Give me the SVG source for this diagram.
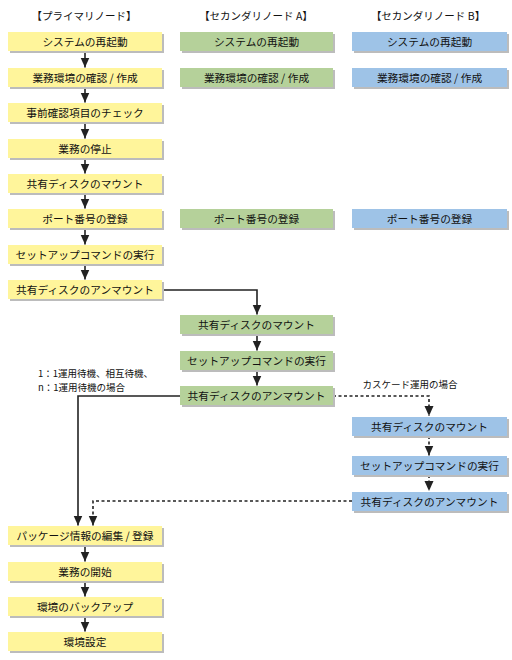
<svg xmlns="http://www.w3.org/2000/svg" width="512" height="660" viewBox="0 0 512 660">
<defs>
<style>
text{font-family:"Noto Sans CJK JP","Noto Sans",sans-serif;fill:#111;}
.t{font-size:10.7px;text-anchor:middle;dominant-baseline:central;}
.h{font-size:10.5px;text-anchor:middle;dominant-baseline:central;}
.s{font-size:9.5px;}
.sh{fill:#bcbcbc;}
.p{fill:#fff59b;}
.a{fill:#b5d19a;}
.b{fill:#9ec3e7;}
.ln{fill:none;stroke:#222;stroke-width:1.6;}
.dl{fill:none;stroke:#222;stroke-width:1.6;stroke-dasharray:3,2.5;}
</style>
<marker id="ah" markerUnits="userSpaceOnUse" markerWidth="10" markerHeight="10" viewBox="0 0 10 10" refX="10" refY="5" orient="auto">
<path d="M0,0.5 L10,5 L0,9.5 Z" fill="#222"/>
</marker>
</defs>
<rect width="512" height="660" fill="#fff"/>
<g id="headers">
<text class="h" x="84" y="15">【プライマリノード】</text>
<text class="h" x="256" y="15">【セカンダリノード A】</text>
<text class="h" x="428" y="15">【セカンダリノード B】</text>
</g>
<g id="connectors">
<path class="ln" d="M85,51 V67.5" marker-end="url(#ah)"/>
<path class="ln" d="M85,87 V102.5" marker-end="url(#ah)"/>
<path class="ln" d="M85,122 V138.5" marker-end="url(#ah)"/>
<path class="ln" d="M85,158 V173.5" marker-end="url(#ah)"/>
<path class="ln" d="M85,193 V208.5" marker-end="url(#ah)"/>
<path class="ln" d="M85,228 V244.5" marker-end="url(#ah)"/>
<path class="ln" d="M85,264 V279.5" marker-end="url(#ah)"/>
<path class="ln" d="M162,290 H257 V314.5" marker-end="url(#ah)"/>
<path class="ln" d="M257,334 V350.5" marker-end="url(#ah)"/>
<path class="ln" d="M257,370 V385.5" marker-end="url(#ah)"/>
<path class="ln" d="M180,396 H78 V525.5" marker-end="url(#ah)"/>
<path class="dl" d="M333,396 H429 V416" marker-end="url(#ah)"/>
<path class="dl" d="M429,436 V455.5" marker-end="url(#ah)"/>
<path class="dl" d="M429,475 V491" marker-end="url(#ah)"/>
<path class="dl" d="M352,501 H93 V525.5" marker-end="url(#ah)"/>
<path class="ln" d="M85,545 V561.5" marker-end="url(#ah)"/>
<path class="ln" d="M85,581 V596.5" marker-end="url(#ah)"/>
<path class="ln" d="M85,616 V631.5" marker-end="url(#ah)"/>
</g>
<g id="labels">
<text class="s" x="38" y="377">1：1運用待機、相互待機、</text>
<text class="s" x="38" y="391">n：1運用待機の場合</text>
<text class="s" x="410" y="388" text-anchor="middle">カスケード運用の場合</text>
</g>
<g id="p1"><rect class="sh" x="10" y="34" width="154" height="19"/><rect class="p" x="8" y="32" width="154" height="19"/><text class="t" x="85" y="41.5">システムの再起動</text></g>
<g id="p2"><rect class="sh" x="10" y="70" width="154" height="19"/><rect class="p" x="8" y="68" width="154" height="19"/><text class="t" x="85" y="77.5">業務環境の確認 / 作成</text></g>
<g id="p3"><rect class="sh" x="10" y="105" width="154" height="19"/><rect class="p" x="8" y="103" width="154" height="19"/><text class="t" x="85" y="112.5">事前確認項目のチェック</text></g>
<g id="p4"><rect class="sh" x="10" y="141" width="154" height="19"/><rect class="p" x="8" y="139" width="154" height="19"/><text class="t" x="85" y="148.5">業務の停止</text></g>
<g id="p5"><rect class="sh" x="10" y="176" width="154" height="19"/><rect class="p" x="8" y="174" width="154" height="19"/><text class="t" x="85" y="183.5">共有ディスクのマウント</text></g>
<g id="p6"><rect class="sh" x="10" y="211" width="154" height="19"/><rect class="p" x="8" y="209" width="154" height="19"/><text class="t" x="85" y="218.5">ポート番号の登録</text></g>
<g id="p7"><rect class="sh" x="10" y="247" width="154" height="19"/><rect class="p" x="8" y="245" width="154" height="19"/><text class="t" x="85" y="254.5">セットアップコマンドの実行</text></g>
<g id="p8"><rect class="sh" x="10" y="282" width="154" height="19"/><rect class="p" x="8" y="280" width="154" height="19"/><text class="t" x="85" y="289.5">共有ディスクのアンマウント</text></g>
<g id="p9"><rect class="sh" x="10" y="528" width="154" height="19"/><rect class="p" x="8" y="526" width="154" height="19"/><text class="t" x="85" y="535.5">パッケージ情報の編集 / 登録</text></g>
<g id="p10"><rect class="sh" x="10" y="564" width="154" height="19"/><rect class="p" x="8" y="562" width="154" height="19"/><text class="t" x="85" y="571.5">業務の開始</text></g>
<g id="p11"><rect class="sh" x="10" y="599" width="154" height="19"/><rect class="p" x="8" y="597" width="154" height="19"/><text class="t" x="85" y="606.5">環境のバックアップ</text></g>
<g id="p12"><rect class="sh" x="10" y="634" width="154" height="19"/><rect class="p" x="8" y="632" width="154" height="19"/><text class="t" x="85" y="641.5">環境設定</text></g>
<g id="a1"><rect class="sh" x="182" y="34" width="153" height="19"/><rect class="a" x="180" y="32" width="153" height="19"/><text class="t" x="256.5" y="41.5">システムの再起動</text></g>
<g id="a2"><rect class="sh" x="182" y="70" width="153" height="19"/><rect class="a" x="180" y="68" width="153" height="19"/><text class="t" x="256.5" y="77.5">業務環境の確認 / 作成</text></g>
<g id="a3"><rect class="sh" x="182" y="211" width="153" height="19"/><rect class="a" x="180" y="209" width="153" height="19"/><text class="t" x="256.5" y="218.5">ポート番号の登録</text></g>
<g id="a4"><rect class="sh" x="182" y="317" width="153" height="19"/><rect class="a" x="180" y="315" width="153" height="19"/><text class="t" x="256.5" y="324.5">共有ディスクのマウント</text></g>
<g id="a5"><rect class="sh" x="182" y="353" width="153" height="19"/><rect class="a" x="180" y="351" width="153" height="19"/><text class="t" x="256.5" y="360.5">セットアップコマンドの実行</text></g>
<g id="a6"><rect class="sh" x="182" y="388" width="153" height="19"/><rect class="a" x="180" y="386" width="153" height="19"/><text class="t" x="256.5" y="395.5">共有ディスクのアンマウント</text></g>
<g id="b1"><rect class="sh" x="354" y="34" width="155" height="19"/><rect class="b" x="352" y="32" width="155" height="19"/><text class="t" x="429.5" y="41.5">システムの再起動</text></g>
<g id="b2"><rect class="sh" x="354" y="70" width="155" height="19"/><rect class="b" x="352" y="68" width="155" height="19"/><text class="t" x="429.5" y="77.5">業務環境の確認 / 作成</text></g>
<g id="b3"><rect class="sh" x="354" y="211" width="155" height="19"/><rect class="b" x="352" y="209" width="155" height="19"/><text class="t" x="429.5" y="218.5">ポート番号の登録</text></g>
<g id="b4"><rect class="sh" x="354" y="419" width="155" height="19"/><rect class="b" x="352" y="417" width="155" height="19"/><text class="t" x="429.5" y="426.5">共有ディスクのマウント</text></g>
<g id="b5"><rect class="sh" x="354" y="458" width="155" height="19"/><rect class="b" x="352" y="456" width="155" height="19"/><text class="t" x="429.5" y="465.5">セットアップコマンドの実行</text></g>
<g id="b6"><rect class="sh" x="354" y="494" width="155" height="19"/><rect class="b" x="352" y="492" width="155" height="19"/><text class="t" x="429.5" y="501.5">共有ディスクのアンマウント</text></g>
</svg>
